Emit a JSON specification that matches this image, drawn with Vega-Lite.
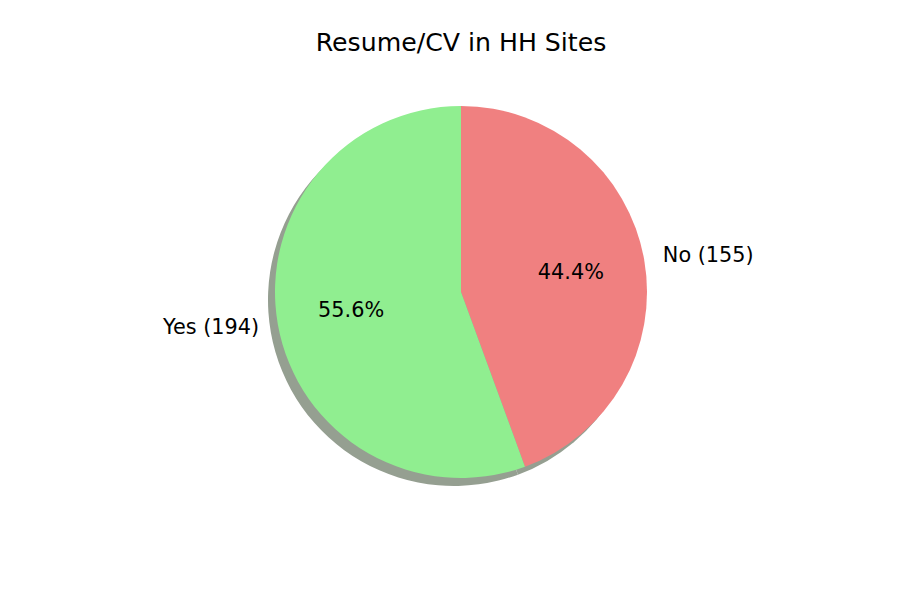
{
  "$schema": "https://vega.github.io/schema/vega-lite/v6.json",
  "autosize": "none",
  "width": 878,
  "height": 584,
  "padding": {"left": 22, "top": 0, "right": 0, "bottom": 0},
  "background": "white",
  "config": {"view": {"stroke": null}, "font": "DejaVu Sans"},
  "title": {
    "text": "Resume/CV in HH Sites",
    "font": "DejaVu Sans",
    "fontSize": 25.2,
    "fontWeight": "normal",
    "color": "black",
    "anchor": "middle",
    "baseline": "alphabetic",
    "offset": -76
  },
  "data": {
    "values": [
      {"cat": "No", "count": 155, "label": "No (155)", "pct": "44.4%"},
      {"cat": "Yes", "count": 194, "label": "Yes (194)", "pct": "55.6%"}
    ]
  },
  "encoding": {
    "theta": {"field": "count", "type": "quantitative", "stack": true},
    "order": {"field": "cat", "sort": "ascending"}
  },
  "layer": [
    {
      "mark": {"type": "arc", "outerRadius": 186, "color": "#959f91", "x": {"expr": "width/2 - 7"}, "y": {"expr": "height/2 + 8"}}
    },
    {
      "mark": {"type": "arc", "outerRadius": 186},
      "encoding": {
        "color": {
          "field": "cat",
          "type": "nominal",
          "scale": {"domain": ["No", "Yes"], "range": ["#F08080", "#90EE90"]},
          "legend": null
        }
      }
    },
    {
      "mark": {"type": "text", "radius": 111.6, "fontSize": 20.8, "font": "DejaVu Sans", "color": "black", "align": "center", "baseline": "middle"},
      "encoding": {"text": {"field": "pct"}}
    },
    {
      "mark": {"type": "text", "radius": 205, "fontSize": 20.8, "font": "DejaVu Sans", "color": "black", "align": "left", "baseline": "middle"},
      "encoding": {"text": {"condition": {"test": "datum.cat === 'No'", "field": "label"}, "value": ""}}
    },
    {
      "mark": {"type": "text", "radius": 205, "fontSize": 20.8, "font": "DejaVu Sans", "color": "black", "align": "right", "baseline": "middle"},
      "encoding": {"text": {"condition": {"test": "datum.cat === 'Yes'", "field": "label"}, "value": ""}}
    }
  ]
}
